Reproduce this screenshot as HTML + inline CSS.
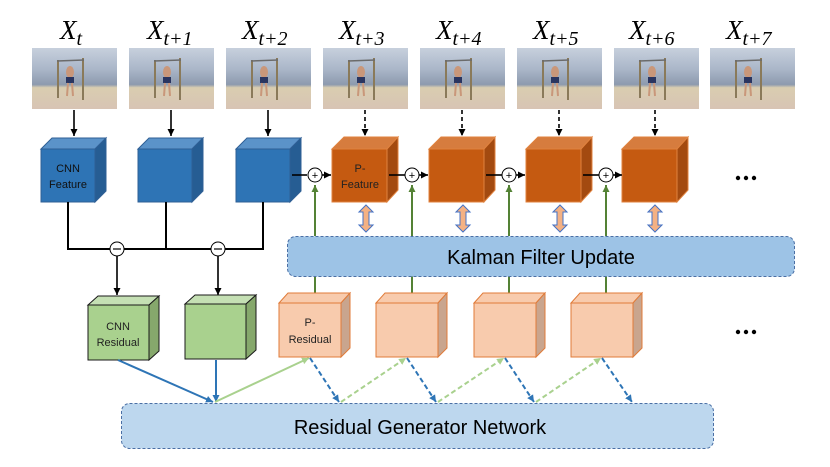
<!DOCTYPE html>
<html><head><meta charset="utf-8"><style>
html,body{margin:0;padding:0;background:#fff;width:830px;height:467px;overflow:hidden}
svg text{font-family:"Liberation Sans",sans-serif}
svg text.lab{font-family:"Liberation Serif","DejaVu Serif",serif;font-style:italic}
</style></head><body>
<svg width="830" height="467" viewBox="0 0 830 467" xmlns="http://www.w3.org/2000/svg">
<defs>
<linearGradient id="img" x1="0" y1="0" x2="0" y2="1">
<stop offset="0" stop-color="#c7d0dd"/><stop offset="0.35" stop-color="#aab6c8"/><stop offset="0.6" stop-color="#8d9aae"/><stop offset="0.65" stop-color="#d9cdb0"/><stop offset="1" stop-color="#d8c4b4"/>
</linearGradient>
<marker id="ak" markerWidth="8" markerHeight="8" refX="7" refY="4" orient="auto" markerUnits="userSpaceOnUse"><path d="M0,0.5 L7,4 L0,7.5z" fill="#000"/></marker>
<marker id="ab" markerWidth="8" markerHeight="8" refX="7" refY="4" orient="auto" markerUnits="userSpaceOnUse"><path d="M0,0.5 L7,4 L0,7.5z" fill="#2e75b6"/></marker>
<marker id="ag" markerWidth="8" markerHeight="8" refX="7" refY="4" orient="auto" markerUnits="userSpaceOnUse"><path d="M0,0.5 L7,4 L0,7.5z" fill="#a9d18e"/></marker>
<marker id="ag2" markerWidth="8" markerHeight="8" refX="7" refY="4" orient="auto" markerUnits="userSpaceOnUse"><path d="M0,0.5 L7,4 L0,7.5z" fill="#548235"/></marker>
<g id="pic">
<rect x="0" y="0" width="85" height="61" fill="url(#img)"/>
<line x1="26" y1="12" x2="26" y2="50" stroke="#8a7a5a" stroke-width="2"/>
<line x1="51" y1="10" x2="51" y2="52" stroke="#8a7a5a" stroke-width="2"/>
<line x1="25" y1="13" x2="52" y2="12" stroke="#6b6b6b" stroke-width="1.5"/>
<ellipse cx="38" cy="24" rx="4" ry="6" fill="#c9977a"/>
<rect x="34" y="29" width="8" height="6" fill="#2a3560"/>
<line x1="36" y1="35" x2="35" y2="48" stroke="#c9977a" stroke-width="2"/>
<line x1="40" y1="35" x2="41" y2="48" stroke="#c9977a" stroke-width="2"/>
</g>
</defs>

<!-- labels -->
<g font-size="27" fill="#000">
<text class="lab" x="60" y="39">X<tspan font-size="20" dy="6">t</tspan></text>
<text class="lab" x="147" y="39">X<tspan font-size="20" dy="6">t+1</tspan></text>
<text class="lab" x="242" y="39">X<tspan font-size="20" dy="6">t+2</tspan></text>
<text class="lab" x="339" y="39">X<tspan font-size="20" dy="6">t+3</tspan></text>
<text class="lab" x="436" y="39">X<tspan font-size="20" dy="6">t+4</tspan></text>
<text class="lab" x="533" y="39">X<tspan font-size="20" dy="6">t+5</tspan></text>
<text class="lab" x="629" y="39">X<tspan font-size="20" dy="6">t+6</tspan></text>
<text class="lab" x="726" y="39">X<tspan font-size="20" dy="6">t+7</tspan></text>
</g>
<use href="#pic" x="32" y="48"/><use href="#pic" x="129" y="48"/><use href="#pic" x="226" y="48"/><use href="#pic" x="323" y="48"/>
<use href="#pic" x="420" y="48"/><use href="#pic" x="517" y="48"/><use href="#pic" x="614" y="48"/><use href="#pic" x="710" y="48"/>

<g stroke="#000" stroke-width="1.6" marker-end="url(#ak)">
<line x1="74" y1="110" x2="74" y2="136"/><line x1="171" y1="110" x2="171" y2="136"/><line x1="268" y1="110" x2="268" y2="136"/>
</g>
<g stroke="#000" stroke-width="1.6" stroke-dasharray="4,3" marker-end="url(#ak)">
<line x1="365" y1="110" x2="365" y2="136"/><line x1="462" y1="110" x2="462" y2="136"/><line x1="559" y1="110" x2="559" y2="136"/><line x1="655" y1="110" x2="655" y2="136"/>
</g>

<g stroke="#2f5f95" stroke-width="1">
<g id="bc">
<path d="M41,149 L52,138 L106,138 L95,149z" fill="#5b93c9"/>
<path d="M95,149 L106,138 L106,191 L95,202z" fill="#265d93"/>
<rect x="41" y="149" width="54" height="53" fill="#2e74b5"/>
</g>
<use href="#bc" x="97"/><use href="#bc" x="195"/>
</g>
<text x="68" y="172" font-size="11" text-anchor="middle" fill="#111">CNN</text>
<text x="68" y="188" font-size="11" text-anchor="middle" fill="#111">Feature</text>

<g stroke="#e0823e" stroke-width="1">
<g id="oc">
<path d="M332,149 L344,137 L398,137 L387,149z" fill="#d67c3e"/>
<path d="M387,149 L398,137 L398,190 L387,202z" fill="#a34a10"/>
<rect x="332" y="149" width="55" height="53" fill="#c55a11"/>
</g>
<use href="#oc" x="97"/><use href="#oc" x="194"/><use href="#oc" x="290"/>
</g>
<text x="360" y="172" font-size="11" text-anchor="middle" fill="#222">P-</text>
<text x="360" y="188" font-size="11" text-anchor="middle" fill="#222">Feature</text>

<g stroke="#000" stroke-width="1.6">
<line x1="292" y1="175" x2="307" y2="175"/><line x1="322" y1="175" x2="331" y2="175" marker-end="url(#ak)"/>
<line x1="389" y1="175" x2="405" y2="175"/><line x1="419" y1="175" x2="428" y2="175" marker-end="url(#ak)"/>
<line x1="486" y1="175" x2="502" y2="175"/><line x1="516" y1="175" x2="525" y2="175" marker-end="url(#ak)"/>
<line x1="583" y1="175" x2="599" y2="175"/><line x1="613" y1="175" x2="622" y2="175" marker-end="url(#ak)"/>
</g>
<g fill="#fff" stroke="#000" stroke-width="1">
<circle cx="315" cy="175" r="7"/><circle cx="412" cy="175" r="7"/><circle cx="509" cy="175" r="7"/><circle cx="606" cy="175" r="7"/>
</g>
<g font-size="11" text-anchor="middle" fill="#000">
<text x="315" y="179">+</text><text x="412" y="179">+</text><text x="509" y="179">+</text><text x="606" y="179">+</text>
</g>

<g stroke="#548235" stroke-width="2">
<line x1="315" y1="236" x2="315" y2="185" marker-end="url(#ag2)"/><line x1="412" y1="236" x2="412" y2="185" marker-end="url(#ag2)"/>
<line x1="509" y1="236" x2="509" y2="185" marker-end="url(#ag2)"/><line x1="606" y1="236" x2="606" y2="185" marker-end="url(#ag2)"/>
<line x1="315" y1="276" x2="315" y2="293"/><line x1="412" y1="276" x2="412" y2="293"/><line x1="509" y1="276" x2="509" y2="293"/><line x1="606" y1="276" x2="606" y2="293"/>
</g>

<g fill="#f4b183" stroke="#4472c4" stroke-width="1">
<g id="da"><path d="M366,205 L373,212 L369,212 L369,225 L373,225 L366,232 L359,225 L363,225 L363,212 L359,212z"/></g>
<use href="#da" x="97"/><use href="#da" x="194"/><use href="#da" x="289"/>
</g>

<rect x="287.5" y="236.5" width="507" height="40" rx="8" fill="#9dc3e6" stroke="#4a6fa5" stroke-width="1" stroke-dasharray="3,2"/>
<text x="541" y="264" font-size="20" text-anchor="middle" fill="#000">Kalman Filter Update</text>

<g stroke="#000" stroke-width="2" fill="none">
<path d="M68,202 L68,249 L263,249 L263,202"/>
<line x1="166" y1="202" x2="166" y2="249"/>
</g>
<g stroke="#000" stroke-width="1.6" marker-end="url(#ak)">
<line x1="117" y1="256" x2="117" y2="295"/><line x1="218" y1="256" x2="218" y2="295"/>
</g>
<g fill="#fff" stroke="#000" stroke-width="1">
<circle cx="117" cy="249" r="7"/><circle cx="218" cy="249" r="7"/>
</g>
<line x1="113" y1="249" x2="121" y2="249" stroke="#000" stroke-width="1.2"/>
<line x1="214" y1="249" x2="222" y2="249" stroke="#000" stroke-width="1.2"/>

<g stroke="#1a1a1a" stroke-width="1">
<g id="gc">
<path d="M88,305 L98,296 L159,296 L149,305z" fill="#c5e0b4"/>
<path d="M149,305 L159,296 L159,351 L149,360z" fill="#86a86c"/>
<rect x="88" y="305" width="61" height="55" fill="#a9d18e"/>
</g>
<use href="#gc" x="97" y="-1"/>
</g>
<text x="118" y="330" font-size="11" text-anchor="middle" fill="#222">CNN</text>
<text x="118" y="346" font-size="11" text-anchor="middle" fill="#222">Residual</text>

<g stroke="#e07b39" stroke-width="1">
<g id="pc">
<path d="M279,303 L288,293 L350,293 L341,303z" fill="#f8cbad"/>
<path d="M341,303 L350,293 L350,348 L341,357z" fill="#c9a58e"/>
<rect x="279" y="303" width="62" height="54" fill="#f8cbad"/>
</g>
<use href="#pc" x="97"/><use href="#pc" x="195"/><use href="#pc" x="292"/>
</g>
<text x="310" y="326" font-size="11" text-anchor="middle" fill="#222">P-</text>
<text x="310" y="343" font-size="11" text-anchor="middle" fill="#222">Residual</text>

<rect x="121.5" y="403.5" width="592" height="45" rx="8" fill="#bdd7ee" stroke="#4a6fa5" stroke-width="1" stroke-dasharray="3,2"/>
<text x="420" y="434" font-size="20" text-anchor="middle" fill="#000">Residual Generator Network</text>

<g stroke="#2e75b6" stroke-width="2" marker-end="url(#ab)">
<line x1="118" y1="360" x2="213" y2="402"/><line x1="216" y1="360" x2="216" y2="402"/>
</g>
<line x1="215" y1="402" x2="309" y2="358" stroke="#a9d18e" stroke-width="2" marker-end="url(#ag)"/>
<g stroke="#2e75b6" stroke-width="2" stroke-dasharray="5,3" marker-end="url(#ab)">
<line x1="310" y1="358" x2="339" y2="402"/><line x1="407" y1="358" x2="436" y2="402"/>
<line x1="505" y1="358" x2="534" y2="402"/><line x1="602" y1="358" x2="632" y2="402"/>
</g>
<g stroke="#a9d18e" stroke-width="2" stroke-dasharray="5,3" marker-end="url(#ag)">
<line x1="341" y1="402" x2="406" y2="358"/><line x1="438" y1="402" x2="504" y2="358"/><line x1="536" y1="402" x2="601" y2="358"/>
</g>

<g fill="#000">
<circle cx="738" cy="178" r="2.2"/><circle cx="746" cy="178" r="2.2"/><circle cx="754" cy="178" r="2.2"/>
<circle cx="738" cy="332" r="2.2"/><circle cx="746" cy="332" r="2.2"/><circle cx="754" cy="332" r="2.2"/>
</g>
</svg>
</body></html>
